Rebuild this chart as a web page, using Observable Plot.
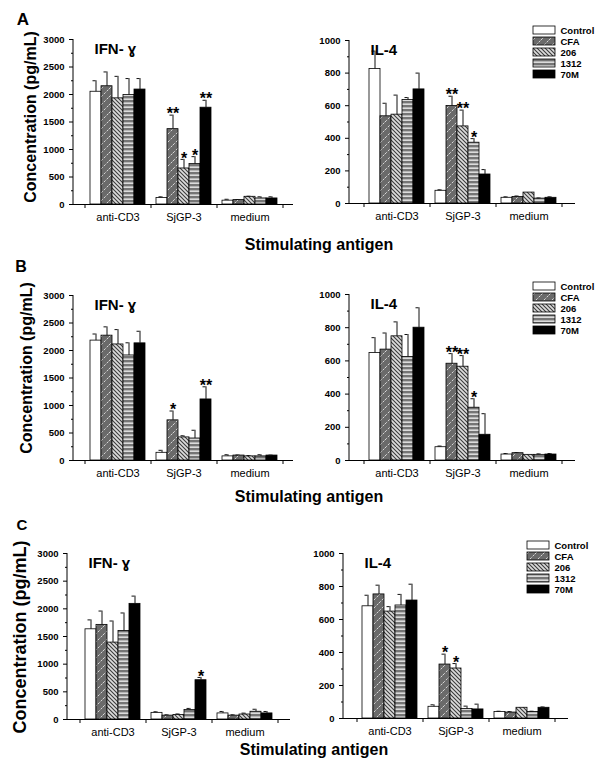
<!DOCTYPE html>
<html><head><meta charset="utf-8">
<script src="https://cdn.jsdelivr.net/npm/d3@7"></script>
<script src="https://cdn.jsdelivr.net/npm/@observablehq/plot@0.6"></script>
<style>
body{margin:0;background:#fff;}
#root{position:relative;width:600px;height:771px;overflow:hidden;background:#fff;font-family:"Liberation Sans",Arial,sans-serif;}
</style></head><body>
<svg width="0" height="0" style="position:absolute">
<defs>
<pattern id="pCFA" patternUnits="userSpaceOnUse" width="8" height="8">
<rect width="8" height="8" fill="#6a6a6a"/>
<path d="M0,8 L8,0 M-1,1 L1,-1 M7,9 L9,7" stroke="#e4e4e4" stroke-width="0.9" stroke-dasharray="2.5,1.5"/>
</pattern>
<pattern id="p206" patternUnits="userSpaceOnUse" width="4" height="4">
<rect width="4" height="4" fill="#dcdcdc"/>
<path d="M0,0 L4,4 M-1,3 L1,5 M3,-1 L5,1" stroke="#3c3c3c" stroke-width="1.1"/>
</pattern>
<pattern id="p1312" patternUnits="userSpaceOnUse" width="4" height="4">
<rect width="4" height="4" fill="#757575"/>
<rect y="1.5" width="4" height="1.3" fill="#f4f4f4"/>
</pattern>
</defs>
</svg>
<div id="root"></div>
<script>
// ---------- data ----------
const categories = ["anti-CD3", "SjGP-3", "medium"];
const series = ["Control", "CFA", "206", "1312", "70M"];
const ifnTicks = [0, 500, 1000, 1500, 2000, 2500, 3000];
const ifnMinor = [250, 750, 1250, 1750, 2250, 2750];
const il4Ticks = [0, 200, 400, 600, 800, 1000];
const il4Minor = [100, 300, 500, 700, 900];
const ifnTitle = "IFN- ɣ";
const il4Title = "IL-4";
const panelLetters = ["A", "B", "C"];
const yLabel = "Concentration (pg/mL)";
const xLabel = "Stimulating antigen";

// rows = categories, columns = series
const aIfnMean = [[2050, 2150, 1930, 1990, 2090], [120, 1370, 655, 735, 1760], [70, 80, 140, 110, 110]];
const aIfnErr  = [[200, 260, 400, 300, 200], [20, 255, 165, 135, 135], [25, 10, 10, 30, 30]];
const aIfnStar = [[], ["", "**", "*", "*", "**"], []];
const aIl4Mean = [[825, 535, 545, 635, 700], [78, 598, 473, 373, 178], [35, 40, 67, 30, 35]];
const aIl4Err  = [[110, 80, 120, 15, 100], [6, 60, 100, 25, 30], [6, 6, 0, 4, 6]];
const aIl4Star = [[], ["", "**", "**", "*", ""], []];

const bIfnMean = [[2180, 2270, 2110, 1910, 2130], [140, 730, 420, 400, 1110], [75, 90, 75, 75, 90]];
const bIfnErr  = [[120, 160, 270, 230, 220], [45, 170, 30, 150, 230], [30, 10, 15, 30, 8]];
const bIfnStar = [[], ["", "*", "", "", "**"], []];
const bIl4Mean = [[648, 668, 748, 624, 800], [80, 583, 565, 318, 155], [36, 44, 34, 34, 36]];
const bIl4Err  = [[92, 100, 87, 135, 120], [7, 61, 67, 54, 127], [6, 4, 0, 6, 6]];
const bIl4Star = [[], ["", "**", "**", "*", ""], []];

const cIfnMean = [[1630, 1710, 1390, 1600, 2090], [120, 70, 80, 170, 710], [110, 70, 90, 140, 110]];
const cIfnErr  = [[170, 250, 390, 325, 140], [20, 15, 20, 30, 50], [35, 15, 25, 45, 35]];
const cIfnStar = [[], ["", "", "", "", "*"], []];
const cIl4Mean = [[680, 752, 648, 685, 715], [71, 327, 303, 57, 55], [40, 36, 65, 40, 65]];
const cIl4Err  = [[67, 56, 30, 67, 99], [12, 63, 30, 18, 32], [4, 6, 0, 4, 5]];
const cIl4Star = [[], ["", "*", "*", "", ""], []];

// ---------- styles ----------
const fills = {Control: "white", CFA: "url(#pCFA)", "206": "url(#p206)", "1312": "url(#p1312)", "70M": "black"};
const FONT = "'Liberation Sans', Arial, sans-serif";

const root = document.getElementById("root");
function place(el, left, top) {
  el.style.position = "absolute";
  el.style.left = left + "px";
  el.style.top = top + "px";
  root.appendChild(el);
}

// band domain: spacer + 5 bars per category
const gapKeys = d3.range(categories.length + 1).map(i => "gap" + i);
const xDomain = [];
categories.forEach((c, i) => { xDomain.push(gapKeys[i]); series.forEach(s => xDomain.push(c + "|" + s)); });
xDomain.push(gapKeys[categories.length]);
const centerKeys = categories.map(c => c + "|" + series[2]);

function panel(cfg) {
  const rows = [];
  categories.forEach((c, ci) => series.forEach((s, si) => rows.push({
    key: c + "|" + s, ser: s, v: cfg.mean[ci][si], e: cfg.err[ci][si],
    star: (cfg.star[ci] || [])[si] || ""
  })));
  const mL = 60, mR = 20, mT = 30, mB = 30;
  const yMax = cfg.ticks[cfg.ticks.length - 1];
  const plot = Plot.plot({
    width: cfg.fr - cfg.fl + mL + mR,
    height: cfg.fb - cfg.ft + mT + mB,
    marginLeft: mL, marginRight: mR, marginTop: mT, marginBottom: mB,
    x: {type: "band", domain: xDomain, padding: 0},
    y: {domain: [0, yMax]},
    color: {type: "identity"},
    style: {background: "transparent", fontFamily: FONT, fontSize: "10px", fontWeight: "bold", overflow: "visible", color: "black"},
    marks: [
      Plot.barY(rows, {x: "key", y: "v", fill: d => fills[d.ser], stroke: "black", strokeWidth: 0.8}),
      Plot.ruleX(rows.filter(d => d.e > 0), {x: "key", y1: "v", y2: d => d.v + d.e, stroke: "#111", strokeWidth: 1}),
      Plot.tickY(rows.filter(d => d.e > 0), {x: "key", y: d => d.v + d.e, insetLeft: 2.5, insetRight: 5.5, stroke: "#111", strokeWidth: 1}),
      Plot.text(rows.filter(d => d.star), {x: "key", y: d => d.v + d.e, text: "star", dy: -1, fontSize: 16, fontWeight: "bold"}),
      Plot.ruleY([0], {stroke: "black", strokeWidth: 1}),
      Plot.ruleX(gapKeys, {x: d => d, y1: 0, y2: 0, insetBottom: -4, stroke: "black"}),
      (index, scales, values, dims) => {
        const y = scales.y;
        return d3.create("svg:line")
          .attr("x1", dims.marginLeft).attr("x2", dims.marginLeft)
          .attr("y1", y(0)).attr("y2", y(yMax))
          .attr("stroke", "black").attr("stroke-width", 1).node();
      },
      Plot.axisY({ticks: cfg.ticks, tickSize: 4, tickPadding: 5, tickFormat: d => String(d), fontSize: 9.5, fontWeight: "bold", label: null}),
      Plot.axisY({ticks: cfg.minor, tickSize: 2, tickFormat: () => "", label: null}),
      Plot.axisX({ticks: centerKeys, tickSize: 0, tickPadding: 9, tickFormat: k => k.split("|")[0], fontSize: 11, fontWeight: "normal", label: null}),
      Plot.text([cfg.title], {frameAnchor: "top-left", dx: 21, dy: 4, textAnchor: "start", fontSize: 15, fontWeight: "bold"})
    ]
  });
  place(plot, cfg.fl - mL, cfg.ft - mT);
}

function legend(left, firstCenter, step) {
  const plot = Plot.plot({
    width: 75, height: step * series.length,
    marginLeft: 0, marginRight: 53, marginTop: 0, marginBottom: 0,
    x: {domain: [0, 1], axis: null},
    y: {type: "band", domain: series, paddingInner: 0.28, paddingOuter: 0.14, axis: null},
    color: {type: "identity"},
    style: {background: "transparent", fontFamily: FONT, overflow: "visible", color: "black"},
    marks: [
      Plot.barX(series, {x1: 0, x2: 1, y: d => d, fill: d => fills[d], stroke: "black", strokeWidth: 0.8}),
      Plot.text(series, {x: 1, y: d => d, text: d => d, dx: 5, textAnchor: "start", fontSize: 9.5, fontWeight: "bold"})
    ]
  });
  place(plot, left, firstCenter - step / 2);
}

panel({mean: aIfnMean, err: aIfnErr, star: aIfnStar, ticks: ifnTicks, minor: ifnMinor, title: ifnTitle, fl: 73, fr: 293, ft: 39, fb: 204});
panel({mean: aIl4Mean, err: aIl4Err, star: aIl4Star, ticks: il4Ticks, minor: il4Minor, title: il4Title, fl: 349, fr: 575, ft: 40, fb: 203});
panel({mean: bIfnMean, err: bIfnErr, star: bIfnStar, ticks: ifnTicks, minor: ifnMinor, title: ifnTitle, fl: 73, fr: 293, ft: 295, fb: 460});
panel({mean: bIl4Mean, err: bIl4Err, star: bIl4Star, ticks: il4Ticks, minor: il4Minor, title: il4Title, fl: 349, fr: 575, ft: 294, fb: 460});
panel({mean: cIfnMean, err: cIfnErr, star: cIfnStar, ticks: ifnTicks, minor: ifnMinor, title: ifnTitle, fl: 67, fr: 290, ft: 553, fb: 719});
panel({mean: cIl4Mean, err: cIl4Err, star: cIl4Star, ticks: il4Ticks, minor: il4Minor, title: il4Title, fl: 343, fr: 568, ft: 553, fb: 718});

legend(533, 29, 11);
legend(533, 285, 11.75);
legend(527, 544, 11.75);

// overlay text labels
const ov = d3.create("svg").attr("width", 600).attr("height", 771)
  .style("pointer-events", "none").style("font-family", FONT).style("font-weight", "bold");
const letterPos = [[23, 19, 17], [21, 266, 16], [22, 524, 15]];
panelLetters.forEach((t, i) => ov.append("text").attr("x", letterPos[i][0]).attr("y", letterPos[i][1])
  .attr("text-anchor", "middle").attr("dominant-baseline", "central").attr("font-size", letterPos[i][2]).text(t));
const yLabPos = [[30, 117, 16], [26, 368, 16], [20, 637, 18]];
yLabPos.forEach(p => ov.append("text").attr("transform", `translate(${p[0]},${p[1]}) rotate(-90)`)
  .attr("text-anchor", "middle").attr("dominant-baseline", "central").attr("font-size", p[2]).text(yLabel));
const xLabPos = [[319, 244], [309, 496], [314, 749]];
xLabPos.forEach(p => ov.append("text").attr("x", p[0]).attr("y", p[1])
  .attr("text-anchor", "middle").attr("dominant-baseline", "central").attr("font-size", 16).text(xLabel));
place(ov.node(), 0, 0);
</script>
</body></html>
